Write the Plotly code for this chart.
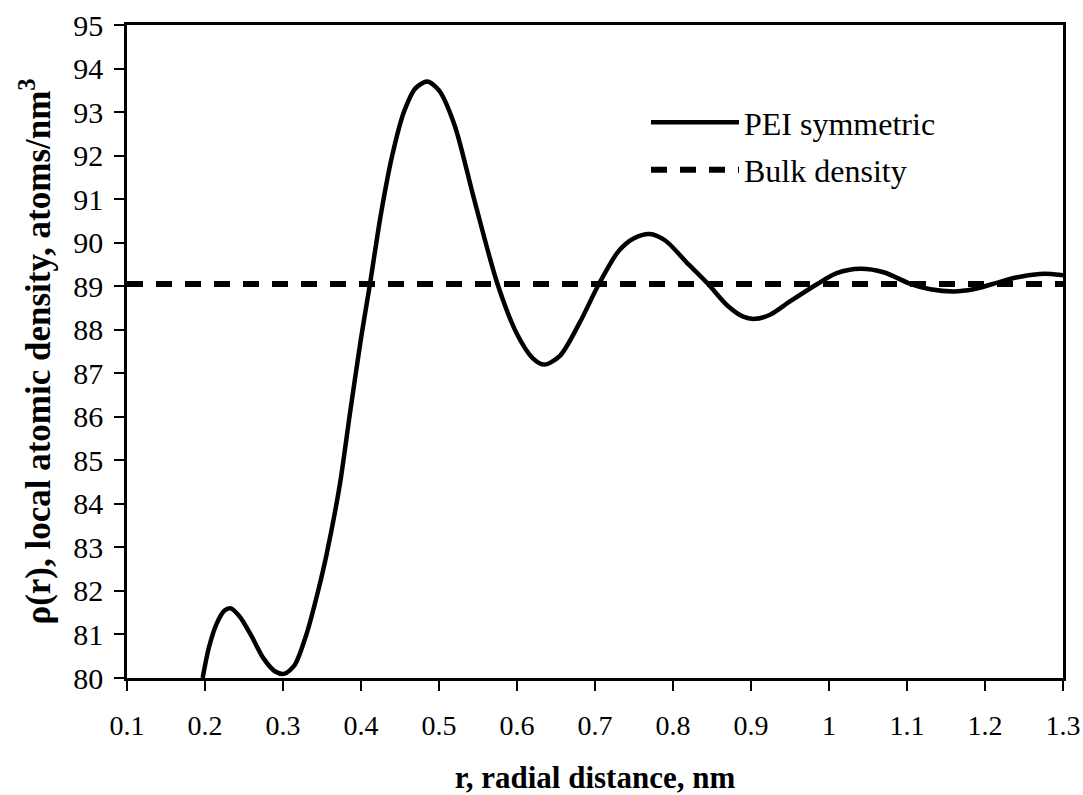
import plotly.graph_objects as go

# Local atomic density profile of symmetric PEI vs radial distance
r_nm = [0.197, 0.205, 0.215, 0.225, 0.233, 0.245, 0.26, 0.275, 0.29, 0.302,
        0.315, 0.33, 0.345, 0.356, 0.373, 0.386, 0.40, 0.4115, 0.425, 0.44,
        0.455, 0.47, 0.485, 0.50, 0.52, 0.545, 0.575, 0.60, 0.62, 0.635,
        0.655, 0.68, 0.705, 0.73, 0.75, 0.77, 0.79, 0.82, 0.845, 0.87,
        0.89, 0.905, 0.925, 0.95, 0.985, 1.01, 1.04, 1.07, 1.105, 1.13,
        1.16, 1.185, 1.21, 1.24, 1.27, 1.285, 1.30]
rho_pei = [80.0, 80.7, 81.25, 81.55, 81.6, 81.4, 80.95, 80.45, 80.15, 80.1,
           80.3, 81.0, 82.0, 82.85, 84.46, 86.1, 87.8, 89.05, 90.6, 92.0,
           93.0, 93.55, 93.7, 93.5, 92.7, 91.0, 89.05, 87.9, 87.35, 87.2,
           87.4, 88.15, 89.05, 89.8, 90.1, 90.2, 90.05, 89.5, 89.05, 88.55,
           88.3, 88.25, 88.35, 88.65, 89.05, 89.3, 89.4, 89.32, 89.05, 88.93,
           88.88, 88.93, 89.05, 89.2, 89.28, 89.28, 89.25]

# Bulk density reference level
r_bulk = [0.1, 1.3]
rho_bulk = [89.05, 89.05]

x_ticks = [0.1, 0.2, 0.3, 0.4, 0.5, 0.6, 0.7, 0.8, 0.9, 1.0, 1.1, 1.2, 1.3]
x_tick_text = ["0.1", "0.2", "0.3", "0.4", "0.5", "0.6", "0.7", "0.8", "0.9",
               "1", "1.1", "1.2", "1.3"]
y_ticks = list(range(80, 96))

SERIF = "Liberation Serif"

fig = go.Figure()
fig.add_trace(go.Scatter(
    x=r_nm, y=rho_pei, mode="lines", name="PEI symmetric",
    line=dict(color="black", width=4.5, shape="spline", smoothing=0.8),
    legendgroup="a",
))
fig.add_trace(go.Scatter(
    x=r_bulk, y=rho_bulk, mode="lines", name="Bulk density",
    line=dict(color="black", width=6, dash="16px,13px"),
    legendgroup="b",
))

axis_common = dict(
    showgrid=False, zeroline=False, showline=True, linecolor="black",
    linewidth=2.5, mirror=True, ticks="outside", ticklen=10, tickwidth=2,
    tickcolor="black",
)

fig.update_layout(
    width=1083, height=795,
    margin=dict(l=127, r=20, t=25, b=117),
    paper_bgcolor="white", plot_bgcolor="white",
    xaxis=dict(
        range=[0.1, 1.3], tickvals=x_ticks, ticktext=x_tick_text,
        tickfont=dict(family=SERIF, size=28, color="black"),
        ticklabelstandoff=11,
        title=dict(text="<b>r, radial distance, nm</b>", standoff=29,
                   font=dict(family=SERIF, size=31, color="black")),
        automargin=False,
        **axis_common,
    ),
    yaxis=dict(
        range=[80, 95], tickvals=y_ticks,
        tickfont=dict(family=SERIF, size=30, color="black"),
        ticklabelstandoff=5,
        title=dict(text="<b>\u03c1(r), local atomic density, atoms/nm<sup>3</sup></b>",
                   standoff=13,
                   font=dict(family=SERIF, size=35, color="black")),
        automargin=False,
        **axis_common,
    ),
    legend=dict(
        x=0.5545, y=0.893, xanchor="left", yanchor="top",
        bgcolor="rgba(0,0,0,0)", borderwidth=0,
        font=dict(family=SERIF, size=32, color="black"),
        traceorder="grouped", tracegroupgap=3, itemwidth=88,
    ),
    showlegend=True,
)

fig.write_html("out.html")
